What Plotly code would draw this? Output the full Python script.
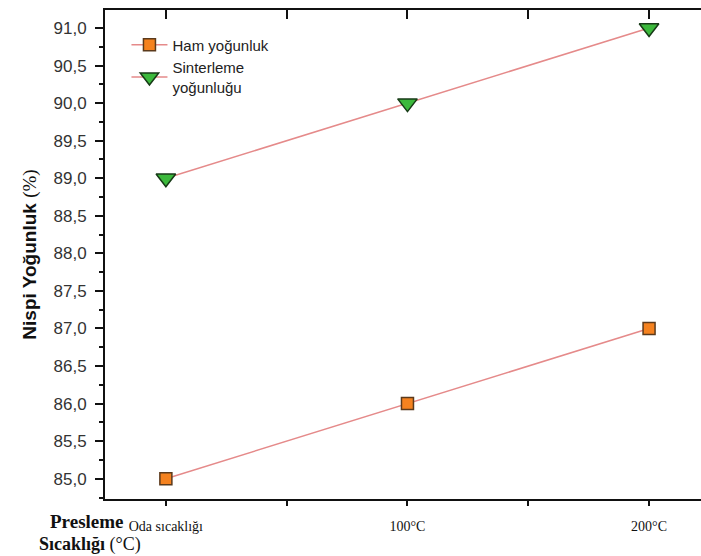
import plotly.graph_objects as go

# Pressing temperature positions on the x scale and their labels
press_x = [0, 100, 200]
tick_vals = [0, 50, 100, 150, 200]
tick_text = ["Oda sıcaklığı", "", "100°C", "", "200°C"]

# Relative density (%)
ham = [85.0, 86.0, 87.0]
sinter = [89.0, 90.0, 91.0]

LINE_COLOR = "#e58a8a"

fig = go.Figure()
fig.add_trace(go.Scatter(
    x=press_x, y=ham, mode="lines+markers", name="Ham yoğunluk",
    line=dict(color=LINE_COLOR, width=1.5),
    marker=dict(symbol="square", size=12, color="#f5821f",
                line=dict(color="#5b3a1c", width=1.5)),
))
fig.add_trace(go.Scatter(
    x=press_x, y=sinter, mode="lines+markers", name="Sinterleme<br>yoğunluğu",
    line=dict(color=LINE_COLOR, width=1.5),
    marker=dict(symbol="triangle-down", size=17, color="#3cb93c",
                line=dict(color="#173a17", width=1.5)),
))

fig.update_layout(
    width=701, height=556,
    margin=dict(l=105, r=0, t=10, b=57),
    plot_bgcolor="white", paper_bgcolor="white",
    separators=",.",
    showlegend=True,
    legend=dict(x=0.036, y=0.962, xanchor="left", yanchor="top",
                bgcolor="rgba(0,0,0,0)", itemwidth=36,
                font=dict(family="Arial, Liberation Sans", size=15, color="#222"),
                tracegroupgap=2),
    xaxis=dict(
        range=[-25.2, 221.5], tickmode="array", tickvals=tick_vals, ticktext=tick_text,
        showline=True, linecolor="#111", linewidth=2, ticks="outside", ticklen=5,
        tickwidth=2, tickcolor="#111", showgrid=False, zeroline=False,
        ticklabelstandoff=8,
        tickfont=dict(family="Liberation Serif, Times New Roman", size=14, color="#111"),
    ),
    xaxis2=dict(
        range=[-25.2, 221.5], overlaying="x", side="top", matches="x",
        tickmode="array", tickvals=tick_vals, showticklabels=False,
        showline=True, linecolor="#111", linewidth=2, ticks="inside", ticklen=9,
        tickwidth=2, tickcolor="#111", showgrid=False, zeroline=False,
    ),
    yaxis=dict(
        range=[84.73, 91.24], dtick=0.5, tick0=85, tickformat=".1f",
        showline=True, linecolor="#111", linewidth=2, ticks="outside", ticklen=8,
        tickwidth=1.5, tickcolor="#111", showgrid=False, zeroline=False,
        ticklabelstandoff=5,
        minor=dict(dtick=0.25, ticks="outside", ticklen=4, tickcolor="#111", tickwidth=1.5),
        tickfont=dict(family="Arial, Liberation Sans", size=17, color="#333"),
        title=dict(
            text="<b>Nispi Yoğunluk</b> <span style='font-family:Liberation Serif'>(%)</span>",
            font=dict(family="Arial, Liberation Sans", size=19, color="#111"),
            standoff=12,
        ),
    ),
)

# invisible trace so the top axis is drawn
fig.add_trace(go.Scatter(x=[0], y=[88], xaxis="x2", mode="markers",
                         marker=dict(opacity=0), showlegend=False, hoverinfo="skip"))

fig.add_annotation(text="<b>Presleme</b>", xref="paper", yref="paper",
                   x=-0.0302, y=-0.046, xanchor="center", yanchor="middle", showarrow=False,
                   font=dict(family="Liberation Serif, Times New Roman", size=19, color="#111"))
fig.add_annotation(text="<b>Sıcaklığı</b> (°C)", xref="paper", yref="paper",
                   x=-0.0252, y=-0.093, xanchor="center", yanchor="middle", showarrow=False,
                   font=dict(family="Liberation Serif, Times New Roman", size=18, color="#111"))

fig.write_html("out.html")
